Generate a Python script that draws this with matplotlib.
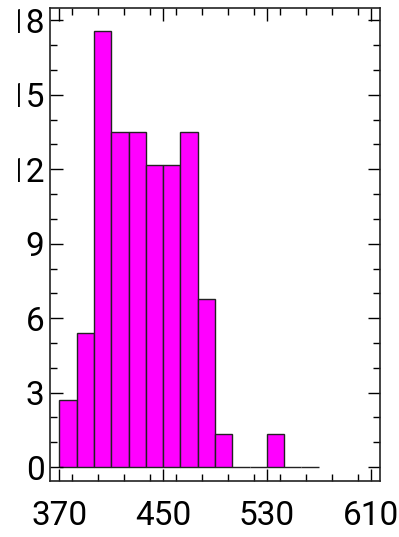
import matplotlib
matplotlib.use("Agg")
import matplotlib.pyplot as plt
from matplotlib.ticker import MultipleLocator
from matplotlib.patches import Rectangle

# Histogram: bin edges (15 bins from 370 to 570) and percentage heights
bin_start = 370
bin_stop = 570
n_bins = 15
percent = [2.70, 5.41, 17.57, 13.51, 13.51, 12.16, 12.16, 13.51, 6.76, 1.35,
           0.0, 0.0, 1.35, 0.0, 0.0]
xticks = [370, 450, 530, 610]
yticks = [0, 3, 6, 9, 12, 15, 18]

plt.rcParams['font.family'] = ['Roboto', 'DejaVu Sans']

fig = plt.figure(figsize=(3.99, 5.37), dpi=100)
ax = fig.add_axes([50/399, 56/537, 330/399, 473/537])

width = (bin_stop - bin_start) / n_bins
lefts = [bin_start + i * width for i in range(n_bins)]
ax.bar(lefts, percent, width=width, align='edge', color='#FF00FF',
       edgecolor='#222222', linewidth=1.0)

ax.set_xlim(362.8, 617.2)
ax.set_ylim(-0.56, 18.5)
ax.set_xticks(xticks)
ax.set_yticks(yticks)
ax.xaxis.set_minor_locator(MultipleLocator(20))
ax.yaxis.set_minor_locator(MultipleLocator(1))
ax.tick_params(which='both', direction='in', top=True, right=True, width=1, colors='black')
ax.tick_params(which='major', length=9)
ax.tick_params(which='minor', length=5)
ax.tick_params(axis='x', which='major', labelsize=24, pad=14)
ax.tick_params(axis='y', which='major', labelsize=24, pad=4)
for s in ax.spines.values():
    s.set_linewidth(1.2)
    s.set_color('#222222')

# the reference image is cropped at its left edge, cutting the leading "1"s
cover = Rectangle((0, 0), 18/399, 1, transform=fig.transFigure,
                  facecolor='white', edgecolor='none', zorder=10)
fig.add_artist(cover)

fig.savefig('out.png', dpi=100)
